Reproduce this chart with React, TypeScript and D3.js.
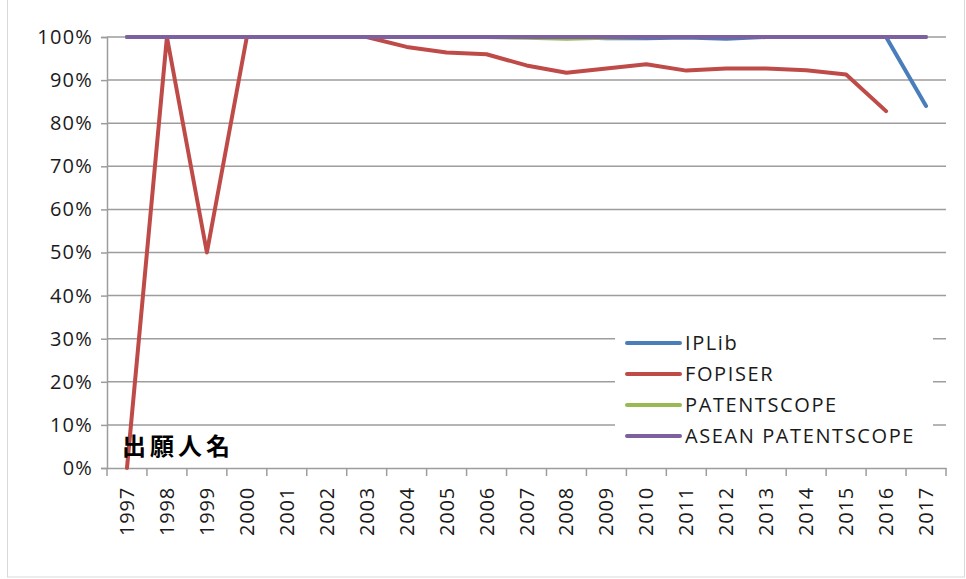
import * as d3 from "d3";
import { useEffect, useRef } from "react";

const years = ["1997", "1998", "1999", "2000", "2001", "2002", "2003", "2004", "2005", "2006", "2007",
    "2008", "2009", "2010", "2011", "2012", "2013", "2014", "2015", "2016", "2017"];

const ipLib = [100, 100, 100, 100, 100, 100, 100, 100, 100, 100, 100,
    100, 99.7, 99.7, 99.9, 99.6, 100, 100, 100, 100, 84.0];
const fopiser = [0, 100, 50, 100, 100, 100, 100, 97.7, 96.4, 96.0, 93.4,
    91.7, 92.7, 93.7, 92.2, 92.7, 92.7, 92.3, 91.3, 82.8, null];
const patentscope = [100, 100, 100, 100, 100, 100, 100, 100, 100, 100, 99.8,
    99.6, 99.8, 100, 100, 100, 100, 100, 100, 100, 100];
const aseanPatentscope = [100, 100, 100, 100, 100, 100, 100, 100, 100, 100, 100,
    100, 100, 100, 100, 100, 100, 100, 100, 100, 100];

const yTicks = [0, 10, 20, 30, 40, 50, 60, 70, 80, 90, 100];

const series = [
    { name: "IPLib", values: ipLib, color: "#4a7ebb" },
    { name: "FOPISER", values: fopiser, color: "#be4b48" },
    { name: "PATENTSCOPE", values: patentscope, color: "#98b954" },
    { name: "ASEAN PATENTSCOPE", values: aseanPatentscope, color: "#7d60a0" },
];

const font = "'Open Sans', sans-serif";

export default function App() {
    const ref = useRef<SVGSVGElement>(null);

    useEffect(() => {
        const svg = d3.select(ref.current);
        svg.selectAll("*").remove();

        const left = 107, right = 946, top = 37, bottom = 468;

        // chart frame
        svg.append("rect")
            .attr("x", 7.5).attr("y", -1)
            .attr("width", 957).attr("height", 578)
            .attr("fill", "white").attr("stroke", "#d9d9d9");

        const X = d3.scaleBand().domain(years).range([left, right]);
        const Y = d3.scaleLinear().domain([0, 100]).range([bottom, top]);

        // gridlines
        svg.append("g")
            .selectAll("line")
            .data(yTicks.filter(t => t > 0))
            .join("line")
            .attr("x1", left).attr("x2", right)
            .attr("y1", d => Y(d)).attr("y2", d => Y(d))
            .attr("stroke", "#9d9d9d").attr("stroke-width", 1.5);

        // y axis
        const gy = svg.append("g")
            .attr("transform", `translate(${left},0)`)
            .call(d3.axisLeft(Y).tickValues(yTicks).tickSize(6).tickPadding(8).tickFormat(d => `${d}%`));
        gy.select(".domain").attr("stroke", "#9d9d9d").attr("stroke-width", 1.5);
        gy.selectAll(".tick line").attr("stroke", "#9d9d9d").attr("stroke-width", 1.5);
        gy.selectAll("text")
            .attr("font-family", font).attr("font-size", 20)
            .attr("letter-spacing", 1.2)
            .attr("fill", "#1a1a1a");

        // x axis
        const gx = svg.append("g")
            .attr("transform", `translate(0,${bottom})`)
            .call(d3.axisBottom(X).tickSize(0).tickPadding(0));
        gx.select(".domain").attr("stroke", "#9d9d9d").attr("stroke-width", 1.5);
        gx.selectAll(".tick text")
            .attr("font-family", font).attr("font-size", 20)
            .attr("letter-spacing", 0.8)
            .attr("fill", "#1a1a1a")
            .attr("transform", "rotate(-90)")
            .attr("text-anchor", "end")
            .attr("dx", "-19")
            .attr("dy", "0.35em")
            .attr("y", 0);
        // x tick marks at band edges
        svg.append("g")
            .selectAll("line")
            .data(years.concat([""]))
            .join("line")
            .attr("x1", (d, i) => left + X.step() * i)
            .attr("x2", (d, i) => left + X.step() * i)
            .attr("y1", bottom).attr("y2", bottom + 8)
            .attr("stroke", "#9d9d9d").attr("stroke-width", 1.5);

        // series lines
        const line = d3.line<number | null>()
            .defined(d => d !== null)
            .x((d, i) => (X(years[i]) as number) + X.bandwidth() / 2)
            .y(d => Y(d as number));

        svg.append("g")
            .selectAll("path")
            .data(series)
            .join("path")
            .attr("d", d => line(d.values))
            .attr("fill", "none")
            .attr("stroke", d => d.color)
            .attr("stroke-width", 4)
            .attr("stroke-linejoin", "round")
            .attr("stroke-linecap", "round");

        // legend
        const lg = svg.append("g");
        lg.append("rect")
            .attr("x", 615).attr("y", 326)
            .attr("width", 318).attr("height", 126)
            .attr("fill", "white");
        const item = lg.selectAll("g.item")
            .data(series)
            .join("g")
            .attr("class", "item")
            .attr("transform", (d, i) => `translate(0,${343 + i * 31})`);
        item.append("line")
            .attr("x1", 627).attr("x2", 680)
            .attr("y1", 0).attr("y2", 0)
            .attr("stroke", d => d.color)
            .attr("stroke-width", 4)
            .attr("stroke-linecap", "round");
        item.append("text")
            .attr("x", 685).attr("y", 0)
            .attr("dy", "0.35em")
            .attr("font-family", font).attr("font-size", 20)
            .attr("letter-spacing", 1.6)
            .attr("fill", "#1a1a1a")
            .text(d => d.name);

        // title-like label
        svg.append("text")
            .attr("x", 122).attr("y", 455)
            .attr("font-family", "'Noto Sans CJK JP', sans-serif")
            .attr("font-size", 24)
            .attr("font-weight", "bold")
            .attr("letter-spacing", 4)
            .attr("fill", "#000")
            .text("出願人名");
    }, []);

    return (
        <svg ref={ref} width={966} height={579}
            style={{ position: "absolute", left: 0, top: 0, display: "block" }} />
    );
}
